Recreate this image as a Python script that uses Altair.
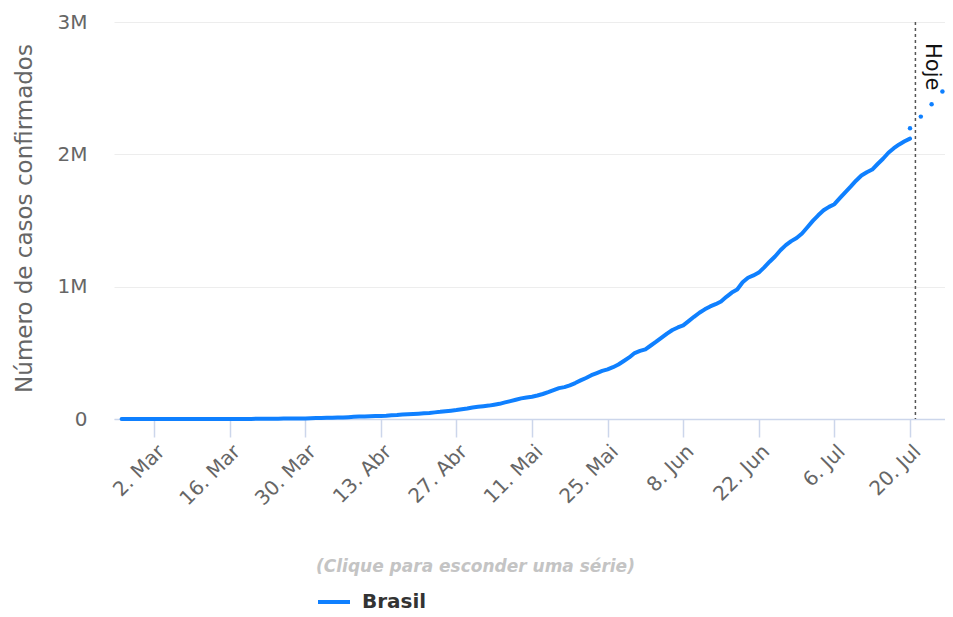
import altair as alt
import pandas as pd

FONT = "DejaVu Sans"
BLUE = "#0f80ff"
GREY = "#666666"

# Casos confirmados acumulados (Brasil), um valor por dia a partir de 25/02/2020
INICIO = "2020-02-25"
casos_fev = [0, 1, 1, 1, 2]
casos_mar = [2, 2, 2, 3, 8, 13, 19, 25, 25, 34, 52, 77, 98, 121, 200, 234, 291, 428,
             621, 904, 1128, 1546, 1891, 2201, 2433, 2915, 3417, 3904, 4256, 4579, 5717]
casos_abr = [6836, 8044, 9056, 10360, 11130, 12161, 14034, 16170, 18092, 19638, 20727,
             22169, 23430, 25262, 28320, 30425, 33682, 36599, 38654, 40581, 43079, 45757,
             50036, 54043, 59324, 63100, 67446, 73235, 79685, 87187]
casos_mai = [92202, 97100, 101147, 108266, 114715, 125218, 135106, 145328, 155939, 162699,
             168331, 177589, 188974, 202918, 218223, 233142, 241080, 254220, 271628, 291579,
             310087, 330890, 347398, 363211, 374898, 391222, 411821, 438238, 465166, 498440,
             514849]
casos_jun = [526447, 555383, 584016, 614941, 645771, 672846, 691758, 707412, 739503, 772416,
             802828, 828810, 850514, 867624, 888271, 923189, 955377, 978142, 1032913, 1067579,
             1085038, 1106470, 1145906, 1188631, 1228114, 1274974, 1313667, 1344143, 1368195,
             1402041]
casos_jul = [1448753, 1496858, 1539081, 1577004, 1603055, 1623284, 1668589, 1713160, 1755779,
             1800827, 1839850, 1864681, 1884967, 1926824, 1966748, 2012151, 2046328, 2074860,
             2098389, 2118646]
casos = casos_fev + casos_mar + casos_abr + casos_mai + casos_jun + casos_jul

# Projeção (pontos)
proj_datas = ["2020-07-20", "2020-07-22", "2020-07-24", "2020-07-26"]
proj_valores = [2197000, 2285000, 2379000, 2474000]

hoje = "2020-07-21"
serie = "Brasil"
titulo_y = "Número de casos confirmados"
titulo_legenda = "(Clique para esconder uma série)"
meses = ["Jan", "Fev", "Mar", "Abr", "Mai", "Jun", "Jul", "Ago", "Set", "Out", "Nov", "Dez"]
x_ticks = [(3, 2), (3, 16), (3, 30), (4, 13), (4, 27), (5, 11), (5, 25), (6, 8), (6, 22),
           (7, 6), (7, 20)]
y_ticks = [0, 1000000, 2000000, 3000000]

df = pd.DataFrame({
    "data": pd.date_range(INICIO, periods=len(casos), freq="D").strftime("%Y-%m-%d"),
    "casos": casos,
    "serie": serie,
})
df_proj = pd.DataFrame({"data": proj_datas, "casos": proj_valores})
df_hoje = pd.DataFrame({"data": [hoje], "rotulo": ["Hoje"]})

mes_expr = "[" + ",".join("'%s'" % m for m in meses) + "]"

x_scale = alt.Scale(
    type="utc",
    domain=[alt.DateTime(year=2020, month=2, date=23, hours=14, minutes=14, utc=True),
            alt.DateTime(year=2020, month=7, date=26, hours=11, minutes=30, utc=True)],
)
x_axis = alt.Axis(
    values=[alt.DateTime(year=2020, month=m, date=d, utc=True) for m, d in x_ticks],
    labelExpr="utcdate(datum.value) + '. ' + " + mes_expr + "[utcmonth(datum.value)]",
    title=None,
    grid=False,
    labelAngle=-45,
    labelFont=FONT,
    labelFontSize=20,
    labelColor=GREY,
    labelPadding=4,
    tickSize=18,
    tickColor="#ccd6eb",
    tickWidth=1.5,
    domainColor="#ccd6eb",
    domainWidth=1.5,
)
y_scale = alt.Scale(domain=[0, 3000000], nice=False)
y_axis = alt.Axis(
    values=y_ticks,
    labelExpr="datum.value == 0 ? '0' : (datum.value / 1000000) + 'M'",
    title=titulo_y,
    titleFont=FONT,
    titleFontSize=23,
    titleFontWeight="normal",
    titleColor=GREY,
    titleX=-90,
    titleY=196,
    titleAlign="center",
    titleBaseline="middle",
    labelFont=FONT,
    labelFontSize=20,
    labelColor=GREY,
    labelPadding=27,
    ticks=False,
    domain=False,
    grid=True,
    gridColor="#ededed",
    gridWidth=1,
)

legend = alt.Legend(
    orient="none",
    legendX=202,
    legendY=537,
    padding=0,
    title=titulo_legenda,
    titleFont=FONT,
    titleFontSize=17,
    titleFontStyle="italic",
    titleFontWeight="bold",
    titleColor="#c4c4c4",
    titlePadding=8,
    titleLimit=600,
    labelFont=FONT,
    labelFontSize=20,
    labelFontWeight="bold",
    labelColor="#333333",
    labelOffset=10,
    symbolType="stroke",
    symbolSize=1024,
    symbolStrokeWidth=4,
)

line = alt.Chart(df).mark_line(strokeWidth=4, strokeCap="round", strokeJoin="round").encode(
    x=alt.X("data:T", scale=x_scale, axis=x_axis),
    y=alt.Y("casos:Q", scale=y_scale, axis=y_axis),
    color=alt.Color("serie:N", scale=alt.Scale(domain=[serie], range=[BLUE]), legend=legend),
)

proj = alt.Chart(df_proj).mark_circle(size=20, color=BLUE, opacity=1).encode(
    x="data:T",
    y="casos:Q",
)

rule = alt.Chart(df_hoje).mark_rule(color="#555555", strokeDash=[3, 3], strokeWidth=1.5).encode(
    x="data:T",
)

text = alt.Chart(df_hoje).mark_text(
    angle=90, align="left", baseline="alphabetic", dy=-11,
    font=FONT, fontSize=21, color="#111111",
).encode(
    x="data:T",
    y=alt.value(21),
    text="rotulo:N",
)

chart = alt.layer(line, proj, rule, text).properties(
    width=831,
    height=397,
    padding={"left": 106, "top": 14, "right": 0, "bottom": 196},
    autosize=alt.AutoSizeParams(type="none"),
).configure_view(stroke=None)

chart.save("out.html", embed_options={"renderer": "svg", "actions": False})
